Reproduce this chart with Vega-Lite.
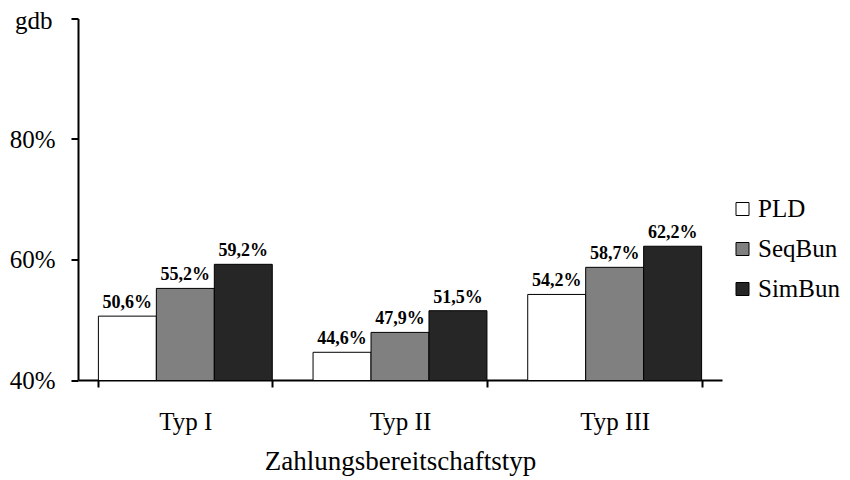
{
  "$schema": "https://vega.github.io/schema/vega-lite/v6.json",
  "autosize": "none",
  "width": 644,
  "height": 361.5,
  "padding": {"left": 78, "top": 18.5, "right": 128, "bottom": 100},
  "data": {"values": [
    {"typ": "Typ I", "serie": "PLD", "wert": 0.506},
    {"typ": "Typ I", "serie": "SeqBun", "wert": 0.552},
    {"typ": "Typ I", "serie": "SimBun", "wert": 0.592},
    {"typ": "Typ II", "serie": "PLD", "wert": 0.446},
    {"typ": "Typ II", "serie": "SeqBun", "wert": 0.479},
    {"typ": "Typ II", "serie": "SimBun", "wert": 0.515},
    {"typ": "Typ III", "serie": "PLD", "wert": 0.542},
    {"typ": "Typ III", "serie": "SeqBun", "wert": 0.587},
    {"typ": "Typ III", "serie": "SimBun", "wert": 0.622}
  ]},
  "encoding": {
    "x": {
      "field": "typ", "type": "nominal", "sort": ["Typ I", "Typ II", "Typ III"],
      "scale": {"paddingInner": 0.19, "paddingOuter": 0.095},
      "axis": {
        "title": "Zahlungsbereitschaftstyp", "labelAngle": 0, "tickBand": "extent",
        "tickSize": 7, "labelPadding": 22, "titlePadding": 14, "titleFontSize": 27
      }
    },
    "xOffset": {"field": "serie", "type": "nominal", "sort": ["PLD", "SeqBun", "SimBun"], "scale": {"paddingInner": 0, "paddingOuter": 0}},
    "y": {
      "field": "wert", "type": "quantitative",
      "scale": {"domain": [0.4, 1], "zero": false, "nice": false},
      "axis": {
        "values": [0.4, 0.6, 0.8, 1.0], "format": ".0%",
        "labelExpr": "datum.value >= 0.999 ? '' : datum.label",
        "tickSize": 7, "labelPadding": 16,
        "title": "gdb", "titleAngle": 0, "titleAlign": "right", "titleBaseline": "alphabetic",
        "titleX": -26, "titleY": 9.5, "titleFontSize": 25
      }
    }
  },
  "layer": [
    {
      "mark": {"type": "bar", "stroke": "#000000", "strokeWidth": 1, "clip": true},
      "encoding": {
        "color": {
          "field": "serie", "type": "nominal",
          "scale": {"domain": ["PLD", "SeqBun", "SimBun"], "range": ["#ffffff", "#808080", "#262626"]},
          "legend": {
            "title": null, "orient": "none", "legendX": 652, "legendY": 178, "padding": 0,
            "symbolType": "square", "symbolSize": 169, "symbolStrokeColor": "#000000", "symbolStrokeWidth": 1,
            "labelFontSize": 25, "labelColor": "#000000", "rowPadding": 14, "labelOffset": 3, "labelLimit": 200
          }
        }
      }
    },
    {
      "mark": {"type": "text", "fontWeight": "bold", "fontSize": 18, "baseline": "bottom", "dy": -4, "color": "#000000"},
      "encoding": {"text": {"field": "wert", "type": "quantitative", "format": ".1%"}}
    }
  ],
  "config": {
    "font": "Liberation Serif",
    "locale": {"number": {"decimal": ",", "thousands": ".", "grouping": [3], "currency": ["", " €"]}},
    "view": {"stroke": null},
    "axis": {
      "grid": false, "domainColor": "#000000", "domainWidth": 2, "tickColor": "#000000", "tickWidth": 2,
      "labelColor": "#000000", "labelFontSize": 25, "titleColor": "#000000", "titleFontWeight": "normal"
    },
    "legend": {"labelFont": "Liberation Serif"}
  }
}
